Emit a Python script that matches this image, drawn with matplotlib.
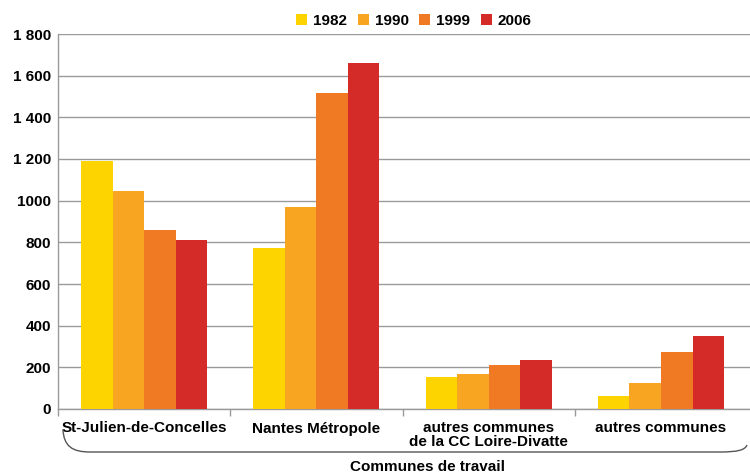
import matplotlib
matplotlib.use("Agg")
import matplotlib.pyplot as plt
from matplotlib.patches import PathPatch
from matplotlib.path import Path
from matplotlib.ticker import FixedLocator
import numpy as np

plt.rcParams['font.family'] = ['Liberation Sans', 'DejaVu Sans']
plt.rcParams['font.weight'] = 'bold'

categories = ["St-Julien-de-Concelles", "Nantes Métropole",
              "autres communes\nde la CC Loire-Divatte", "autres communes"]
years = ["1982", "1990", "1999", "2006"]
values = {
    "1982": [1190, 773, 153, 62],
    "1990": [1046, 970, 168, 126],
    "1999": [859, 1517, 210, 276],
    "2006": [811, 1661, 236, 350],
}
colors = ["#FDD300", "#F8A521", "#F07A24", "#D42A28"]
yticks = [0, 200, 400, 600, 800, 1000, 1200, 1400, 1600, 1800]
ytick_labels = ["0", "200", "400", "600", "800", "1000", "1 200", "1 400", "1 600", "1 800"]

fig = plt.figure(figsize=(7.5, 4.75), dpi=100)
ax = fig.add_axes([58 / 750, 1 - 409 / 475, 1 - 58 / 750 + 0.01, (409 - 34) / 475])

x = np.arange(len(categories))
bw = 0.183
for i, (yr, col) in enumerate(zip(years, colors)):
    ax.bar(x + (i - 1.5) * bw, values[yr], width=bw, color=col, label=yr, zorder=3)

ax.set_xlim(-0.5, len(categories) - 0.5 + 0.06)
ax.set_ylim(0, 1800)
ax.yaxis.set_major_locator(FixedLocator(yticks))
ax.set_yticklabels(ytick_labels, fontsize=11, fontweight='bold')
ax.grid(axis='y', color='#9a9a9a', linewidth=1.0, zorder=0)
ax.tick_params(axis='y', length=0, pad=5)

ax.set_xticks(x)
ax.set_xticklabels(categories, fontsize=11, fontweight='bold', linespacing=0.95)
ax.tick_params(axis='x', length=0, pad=9)
ax.set_xticks(np.arange(len(categories)) - 0.5, minor=True)
ax.tick_params(axis='x', which='minor', length=5, color='#9a9a9a', width=1)

for s in ['top', 'right']:
    ax.spines[s].set_visible(False)
for s in ['left', 'bottom']:
    ax.spines[s].set_color('#9a9a9a')
    ax.spines[s].set_linewidth(1.0)

leg = fig.legend(loc='center', bbox_to_anchor=(414 / 750, 1 - 21 / 475), ncol=4, frameon=False,
                 handlelength=0.7, handleheight=0.7, handletextpad=0.4, columnspacing=0.7,
                 prop={'family': 'Liberation Sans', 'weight': 'bold', 'size': 11})

# brace under the category labels
W, H = 750, 475
pts = [(63, 430), (64, 446), (72, 452), (90, 452), (720, 452), (738, 452), (745, 450), (747, 445)]
codes = [Path.MOVETO, Path.CURVE4, Path.CURVE4, Path.CURVE4, Path.LINETO,
         Path.CURVE4, Path.CURVE4, Path.CURVE4]
verts = [(px / W, 1 - py / H) for px, py in pts]
fig.add_artist(PathPatch(Path(verts, codes), transform=fig.transFigure, fill=False,
                         edgecolor='#555555', linewidth=1.0))

fig.text(427 / W, 1 - 467 / H, "Communes de travail", ha='center', va='center',
         fontsize=11, fontweight='bold')

fig.savefig("out.png", dpi=100, facecolor='white')
